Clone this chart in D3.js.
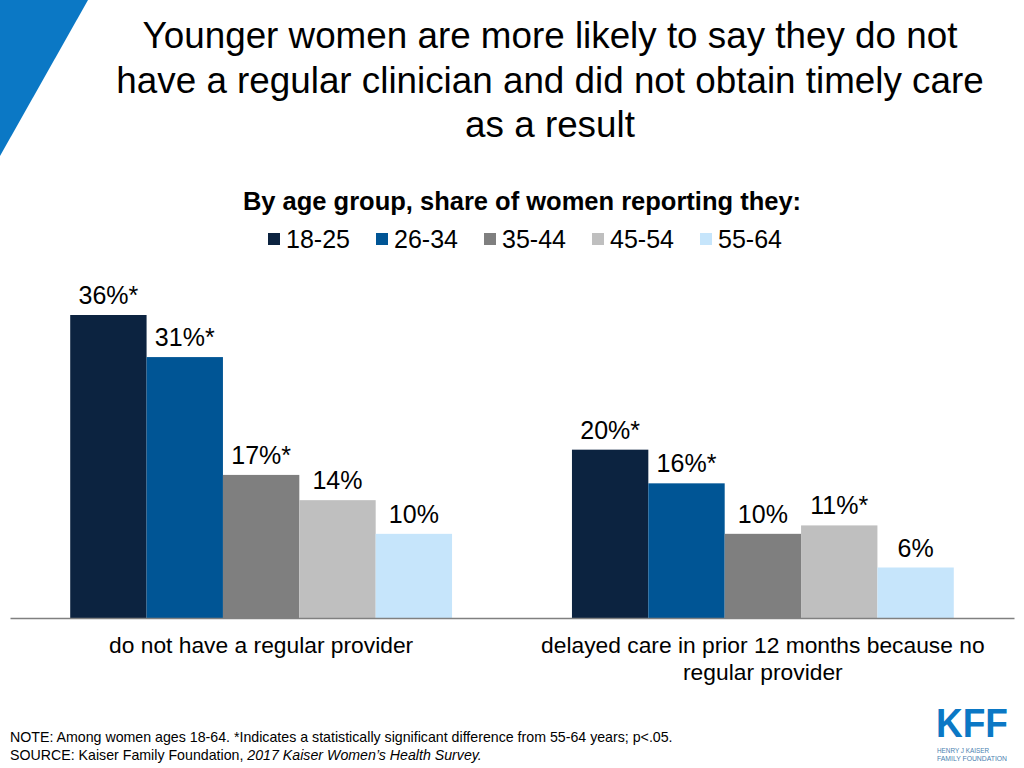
<!DOCTYPE html>
<html>
<head>
<meta charset="utf-8">
<script src="https://cdn.jsdelivr.net/npm/d3@7"></script>
<style>
  html, body { margin: 0; padding: 0; background: #fff; }
  svg { display: block; font-family: "Liberation Sans", Arial, sans-serif; }
</style>
</head>
<body>
<svg id="chart" width="1024" height="768"></svg>
<script>
const titleLines = ["Younger women are more likely to say they do not", "have a regular clinician and did not obtain timely care", "as a result"];
const subtitle = "By age group, share of women reporting they:";
const categories = ["do not have a regular provider", "delayed care in prior 12 months because no regular provider"];
const categoryLines = [["do not have a regular provider"], ["delayed care in prior 12 months because no", "regular provider"]];
const series = ["18-25", "26-34", "35-44", "45-54", "55-64"];
const colors = ["#0c2340", "#005595", "#7f7f7f", "#bfbfbf", "#c6e5fb"];
const values = {
  "18-25": [36, 20],
  "26-34": [31, 16],
  "35-44": [17, 10],
  "45-54": [14, 11],
  "55-64": [10, 6]
};
const significant = {
  "18-25": [true, true],
  "26-34": [true, true],
  "35-44": [true, false],
  "45-54": [false, true],
  "55-64": [false, false]
};
const noteLine = "NOTE: Among women ages 18-64. *Indicates a statistically significant difference from 55-64 years; p<.05.";
const sourcePrefix = "SOURCE: Kaiser Family Foundation, ";
const sourceItalic = "2017 Kaiser Women\u2019s Health Survey.";

const svg = d3.select("#chart");

// corner triangle
svg.append("path").attr("d", "M0,0 L88,0 L0,156 Z").attr("fill", "#0b78c5");

// title
const title = svg.append("text").attr("text-anchor", "middle").attr("font-size", 36.8).attr("fill", "#000");
titleLines.forEach((t, i) => {
  title.append("tspan").attr("x", 550).attr("y", 48 + i * 44.5).text(t);
});

// subtitle
svg.append("text").attr("x", 522).attr("y", 210).attr("text-anchor", "middle")
  .attr("font-size", 25.5).attr("font-weight", "bold").text(subtitle);

// legend
const legend = svg.append("g");
series.forEach((s, i) => {
  const g = legend.append("g").attr("transform", `translate(${268 + i * 108},0)`);
  g.append("rect").attr("x", 0).attr("y", 233).attr("width", 12).attr("height", 12).attr("fill", colors[i]);
  g.append("text").attr("x", 18).attr("y", 248).attr("font-size", 25).text(s);
});

// scales
const x0 = d3.scaleBand().domain(categories).range([10, 1014]).paddingInner(0.239).paddingOuter(0.12);
const x1 = d3.scaleBand().domain(series).range([0, x0.bandwidth()]);
const y = d3.scaleLinear().domain([0, 36]).range([618, 315]);
const color = d3.scaleOrdinal().domain(series).range(colors);

const groups = svg.append("g").selectAll("g").data(categories).join("g")
  .attr("transform", d => `translate(${x0(d)},0)`);

groups.each(function(cat, ci) {
  const g = d3.select(this);
  series.forEach(s => {
    const v = values[s][ci];
    g.append("rect").attr("x", x1(s)).attr("y", y(v)).attr("width", x1.bandwidth())
      .attr("height", y(0) - y(v)).attr("fill", color(s));
    g.append("text").attr("x", x1(s) + x1.bandwidth() / 2).attr("y", y(v) - 11)
      .attr("text-anchor", "middle").attr("font-size", 25).attr("fill", "#000")
      .text(v + "%" + (significant[s][ci] ? "*" : ""));
  });
});

// baseline axis
const axis = d3.axisBottom(x0).tickSize(0).tickFormat("");
const ax = svg.append("g").attr("transform", `translate(0,${y(0)})`).call(axis);
ax.select(".domain").attr("stroke", "#808080").attr("stroke-width", 1.5);

// category labels
categories.forEach((c, ci) => {
  const t = svg.append("text").attr("text-anchor", "middle").attr("font-size", 22.8).attr("fill", "#000");
  categoryLines[ci].forEach((line, li) => {
    t.append("tspan").attr("x", x0(c) + x0.bandwidth() / 2).attr("y", 653 + li * 26.5).text(line);
  });
});

// footnotes
svg.append("text").attr("x", 10).attr("y", 742).attr("font-size", 14.2).text(noteLine);
const src = svg.append("text").attr("x", 10).attr("y", 760).attr("font-size", 14.2);
src.append("tspan").text(sourcePrefix);
src.append("tspan").attr("font-style", "italic").text(sourceItalic);

// logo
const logo = svg.append("g");
logo.append("text").attr("x", 936).attr("y", 737).attr("font-size", 40).attr("font-weight", "bold")
  .attr("fill", "#0b78c5").attr("textLength", 72).attr("lengthAdjust", "spacingAndGlyphs").text("KFF");
logo.append("text").attr("x", 937).attr("y", 753).attr("font-size", 7).attr("fill", "#4a7fb0")
  .attr("textLength", 52).attr("lengthAdjust", "spacingAndGlyphs").text("HENRY J KAISER");
logo.append("text").attr("x", 937).attr("y", 761).attr("font-size", 7).attr("fill", "#4a7fb0")
  .attr("textLength", 70).attr("lengthAdjust", "spacingAndGlyphs").text("FAMILY FOUNDATION");
</script>
</body>
</html>
